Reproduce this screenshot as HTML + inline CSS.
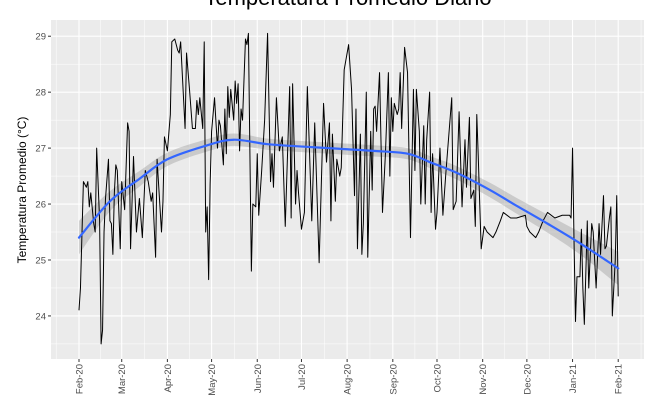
<!DOCTYPE html>
<html><head><meta charset="utf-8"><style>
body{margin:0;background:#fff;}
svg{display:block;font-family:"Liberation Sans",sans-serif;}
</style></head><body>
<svg id="chart" width="662" height="400">
<text x="348" y="5" font-size="22" text-anchor="middle" fill="#000">Temperatura Promedio Diario</text>
<rect x="51" y="20" width="593" height="339" fill="#ebebeb"/>
<g id="grid"></g><g id="band"></g><g id="series"></g><g id="axes"></g>
<text transform="translate(26,190) rotate(-90)" font-size="12" text-anchor="middle" fill="#000">Temperatura Promedio (°C)</text>
</svg>
<script>
const tempDays=[0,1,3,5,6,7,8,10,11,12,14,15,16,17,18,20,21,22,23,24,25,26,28,29,31,33,34,35,37,39,41,43,45,47,49,50,52,53,56,57,58,60,62,63,65,67,68,69,72,73,75,77,79,80,81,82,84,85,86,87,88,89,90,92,94,95,96,98,99,100,101,102,103,105,106,107,108,109,110,111,113,114,115,117,118,120,121,122,124,126,128,130,131,132,134,136,138,140,143,144,145,147,148,149,151,153,155,158,160,163,166,168,170,171,172,174,175,177,178,180,183,185,187,188,189,191,192,193,195,196,198,199,200,201,202,204,206,208,210,211,212,213,214,216,217,218,219,221,223,225,227,228,229,231,232,234,235,236,238,239,240,242,243,245,247,249,253,254,256,258,260,262,263,265,266,268,269,270,271,272,273,275,277,281,283,286,288,293,297,303,304,306,310,312,315,318,323,328,333,334,335,336,337,338,340,341,342,343,344,345,346,348,349,351,353,354,356,357,358,360,361,362,364,365,366];
const tempValues=[24.1,24.5,26.4,26.3,26.4,25.95,26.2,25.65,25.5,27.0,25.7,23.5,23.75,25.5,26.1,26.8,25.7,25.65,25.1,26.2,26.7,26.6,25.2,26.4,25.9,27.45,27.3,25.2,26.85,25.5,26.1,25.4,26.6,26.4,26.05,26.2,25.05,26.8,25.5,26.05,27.2,26.95,27.6,28.9,28.95,28.75,28.7,28.9,27.35,28.7,28.05,27.35,27.35,27.85,27.6,27.9,27.35,28.9,25.5,25.95,24.65,26.35,27.3,27.9,27.0,27.5,27.4,26.7,27.7,26.9,28.1,27.55,28.05,27.5,28.2,27.8,28.15,26.95,27.7,27.5,28.95,28.85,29.05,24.8,26.0,25.95,26.9,25.8,26.6,27.5,29.05,26.4,26.9,26.3,27.9,26.95,27.2,25.6,28.1,25.75,28.15,26.0,26.6,26.2,25.55,25.85,28.1,25.7,27.45,24.95,27.8,26.75,27.45,25.7,27.25,26.05,26.8,26.5,26.65,28.4,28.85,28.05,26.15,27.7,25.2,27.25,25.1,25.65,28.0,25.05,27.3,26.25,27.7,27.75,27.3,28.35,25.85,26.9,28.35,26.5,27.9,27.3,27.8,27.6,27.7,28.35,27.35,28.8,28.35,25.4,28.05,26.6,28.05,27.3,26.0,27.4,26.0,27.15,28.0,25.85,26.9,25.55,25.85,27.0,25.8,26.55,27.9,25.9,26.05,27.65,25.95,27.15,26.3,27.55,26.1,26.25,25.6,27.6,26.85,26.0,25.2,25.6,25.5,25.4,25.5,25.7,25.85,25.75,25.75,25.8,25.6,25.5,25.4,25.5,25.7,25.85,25.75,25.8,25.8,25.75,27.0,25.35,23.9,24.7,24.7,25.55,24.5,23.85,24.75,25.7,24.5,25.65,25.5,24.5,25.65,25.1,26.15,25.2,25.25,25.75,25.95,24.0,25.0,26.15,24.35];
const smoothDays=[0,21,41,60,87,105,128,150,182,200,223,240,257,279,295,318,340,366];
const smoothValues=[25.4,26.05,26.45,26.8,27.05,27.15,27.07,27.03,26.98,26.95,26.9,26.73,26.55,26.25,26.0,25.65,25.3,24.85];
const smoothSE=[0.3,0.18,0.14,0.12,0.11,0.11,0.1,0.1,0.1,0.1,0.1,0.11,0.12,0.13,0.14,0.16,0.2,0.3];
const yTicks=[24,25,26,27,28,29];
const xTickDays=[0,29,60,90,121,151,182,213,243,274,304,335,366];
const xTickLabels=["Feb-20","Mar-20","Apr-20","May-20","Jun-20","Jul-20","Aug-20","Sep-20","Oct-20","Nov-20","Dec-20","Jan-21","Feb-21"];

const X0=51,X1=644,Y0=20,Y1=359;
const dMin=-19,dMax=383.5,vMin=23.23,vMax=29.29;
const sx=d=>X0+(d-dMin)/(dMax-dMin)*(X1-X0);
const sy=v=>Y1-(v-vMin)/(vMax-vMin)*(Y1-Y0);
const NS="http://www.w3.org/2000/svg";
function mk(tag,parent,attrs){const e=document.createElementNS(NS,tag);for(const k in attrs)e.setAttribute(k,attrs[k]);parent.appendChild(e);return e;}
function curve(pts){let d='M'+pts[0][0]+','+pts[0][1];
 for(let i=0;i<pts.length-1;i++){const p0=pts[Math.max(0,i-1)],p1=pts[i],p2=pts[i+1],p3=pts[Math.min(pts.length-1,i+2)];
  const c1=[p1[0]+(p2[0]-p0[0])/6,p1[1]+(p2[1]-p0[1])/6],c2=[p2[0]-(p3[0]-p1[0])/6,p2[1]-(p3[1]-p1[1])/6];
  d+=' C'+c1+' '+c2+' '+p2;}return d;}
const grid=document.getElementById('grid'),band=document.getElementById('band'),series=document.getElementById('series'),axes=document.getElementById('axes');

for(let i=0;i<yTicks.length+1;i++){const v=yTicks[0]-0.5+i;if(v<vMin||v>vMax)continue;
 const l=mk('line',grid,{x1:X0,x2:X1,y1:sy(v),y2:sy(v),stroke:'#fff','stroke-width':0.5});
 
 }
for(let i=0;i<xTickDays.length-1;i++){const d=(xTickDays[i]+xTickDays[i+1])/2;
 const l=mk('line',grid,{x1:sx(d),x2:sx(d),y1:Y0,y2:Y1,stroke:'#fff','stroke-width':0.5});
 
 }
[xTickDays[0]-15.5,xTickDays[xTickDays.length-1]+15.5].forEach(d=>{
 const l=mk('line',grid,{x1:sx(d),x2:sx(d),y1:Y0,y2:Y1,stroke:'#fff','stroke-width':0.5});
 
 });
yTicks.forEach(v=>{
 const l=mk('line',grid,{x1:X0,x2:X1,y1:sy(v),y2:sy(v),stroke:'#fff','stroke-width':1.1});
 
 
 const t=mk('line',axes,{x1:X0-3,x2:X0,y1:sy(v),y2:sy(v),stroke:'#333','stroke-width':1});
 
 
 const tx=mk('text',axes,{x:X0-5,y:sy(v)+3.5,'font-size':9.5,'text-anchor':'end',fill:'#4d4d4d'});
 tx.textContent=v;
 
 
});
xTickDays.forEach((d,i)=>{
 const l=mk('line',grid,{x1:sx(d),x2:sx(d),y1:Y0,y2:Y1,stroke:'#fff','stroke-width':1.1});
 
 
 const t=mk('line',axes,{x1:sx(d),x2:sx(d),y1:Y1,y2:Y1+3,stroke:'#333','stroke-width':1});
 
 
 const tx=mk('text',axes,{transform:`translate(${sx(d)+3.5},${Y1+5}) rotate(-90)`,'font-size':9.5,'text-anchor':'end',fill:'#4d4d4d'});
 tx.textContent=xTickLabels[i];
 
 
});
const upP=smoothDays.map((d,i)=>[sx(d),sy(smoothValues[i]+smoothSE[i])]);
const loP=smoothDays.map((d,i)=>[sx(d),sy(smoothValues[i]-smoothSE[i])]).reverse();
const bp=mk('path',band,{d:curve(upP)+' L'+loP[0]+' '+curve(loP).slice(1)+' Z',fill:'#999','fill-opacity':0.4});


const ln=mk('polyline',series,{points:tempDays.map((d,i)=>sx(d)+','+sy(tempValues[i])).join(' '),fill:'none',stroke:'#000','stroke-width':1,'stroke-linejoin':'round'});


const sm=mk('path',series,{d:curve(smoothDays.map((d,i)=>[sx(d),sy(smoothValues[i])])),fill:'none',stroke:'#3366FF','stroke-width':2.2,'stroke-linecap':'round'});


</script>
</body></html>
